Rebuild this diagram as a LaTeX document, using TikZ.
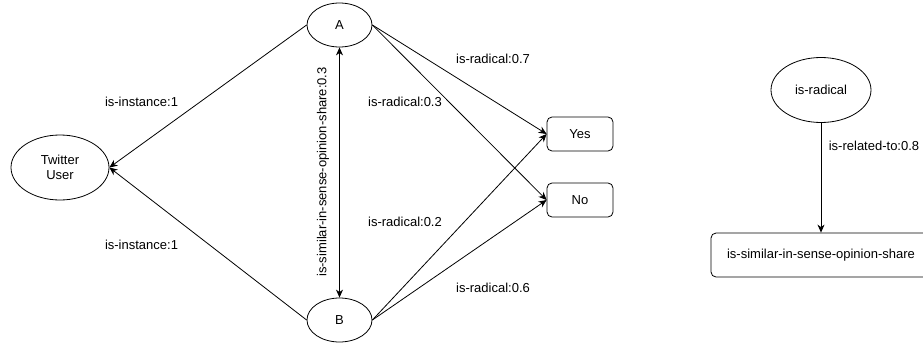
\documentclass[tikz,border=0pt]{standalone}
\usepackage{fontspec}
\setmainfont{Liberation Sans}
\usetikzlibrary{shapes}
\usetikzlibrary{arrows.meta}

\tikzset{
  oval/.style={draw, ellipse, inner sep=0pt, align=center},
  rbox/.style={draw, rounded corners=5pt, inner sep=0pt},
  lbl/.style={inner sep=1pt},
  link/.style={-{Stealth[length=8pt, width=7pt, inset=2.5pt]}},
  twolink/.style={{Stealth[length=8pt, width=7pt, inset=2.5pt]}-{Stealth[length=8pt, width=7pt, inset=2.5pt]}},
}

\begin{document}
\begin{tikzpicture}[x=1pt, y=-1pt, line width=0.8pt, font=\fontsize{13}{15}\selectfont]
\clip (0,0) rectangle (923,348);
% left graph
\node[oval, minimum width=98pt, minimum height=65pt] (tu) at (60,167.5) {Twitter\\User};
\node[oval, minimum width=65pt, minimum height=44pt] (a) at (339.5,25) {A};
\node[oval, minimum width=65pt, minimum height=44pt] (b) at (339.5,320) {B};
\node[rbox, minimum width=66pt, minimum height=34pt] (yes) at (580,134) {Yes};
\node[rbox, minimum width=66pt, minimum height=34pt] (no) at (580,200) {No};
% right graph
\node[oval, minimum width=100pt, minimum height=65pt] (rad) at (821,90) {is-radical};
\node[rbox, minimum width=220pt, minimum height=44pt] (sim) at (821,255) {is-similar-in-sense-opinion-share};

\draw[link] (a.west) -- (tu.east);
\draw[link] (b.west) -- (tu.east);
\draw[twolink] (a) -- (b);
\draw[link] (a.east) -- (yes.west);
\draw[link] (a.east) -- (no.west);
\draw[link] (b.east) -- (yes.west);
\draw[link] (b.east) -- (no.west);
\draw[link] (rad) -- (sim);

% labels
\node[lbl] (inst1) at (141.5,102) {is-instance:1};
\node[lbl] (inst2) at (141.5,245) {is-instance:1};
\node[lbl, rotate=90] (simlbl) at (323,172) {is-similar-in-sense-opinion-share:0.3};
\node[lbl] (r03) at (405,102) {is-radical:0.3};
\node[lbl] (r02) at (405,222) {is-radical:0.2};
\node[lbl] (r07) at (493,59) {is-radical:0.7};
\node[lbl] (r06) at (493,288) {is-radical:0.6};
\node[lbl] (rel) at (874,146) {is-related-to:0.8};
\end{tikzpicture}
\end{document}
